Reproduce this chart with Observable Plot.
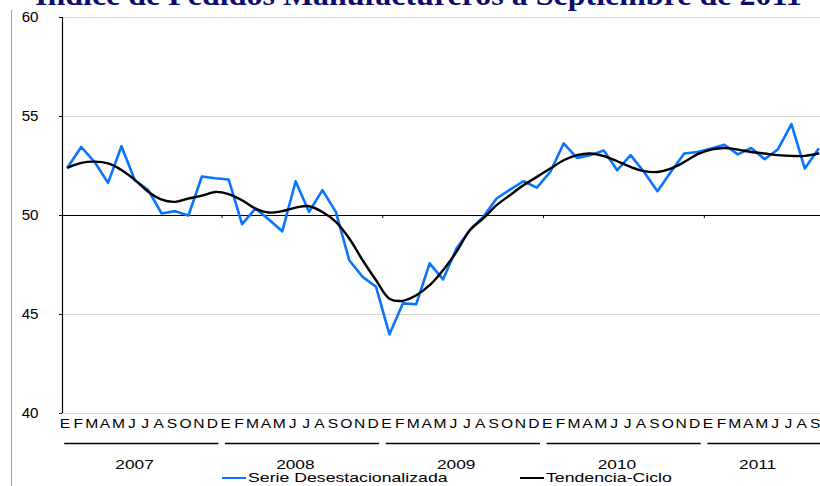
<!DOCTYPE html>
<html><head><meta charset="utf-8">
<script src="https://cdn.jsdelivr.net/npm/d3@7"></script>
<script src="https://cdn.jsdelivr.net/npm/@observablehq/plot@0.6"></script>
<style>
html,body{margin:0;padding:0;background:#fff;}
body{width:820px;height:486px;position:relative;overflow:hidden;font-family:"Liberation Sans",Arial,sans-serif;}
#title{position:absolute;left:35px;top:-21px;font:bold 30px/32px "Liberation Serif",serif;color:#0c0c6e;white-space:nowrap;transform-origin:left top;transform:scaleX(1.066);}
#border{position:absolute;left:11px;top:10px;bottom:0;border-left:1.5px solid #a0a0a0;}
#chart{position:absolute;left:0;top:0;}
.leg{position:absolute;top:470px;height:16px;line-height:16px;font-size:13.5px;white-space:nowrap;transform-origin:left center;transform:scaleX(1.31);color:#000;}
.sw{position:absolute;top:476.5px;height:2.5px;width:24px;}
</style></head>
<body>
<div id="border"></div>
<div id="chart"></div>
<div id="title">Índice de Pedidos Manufactureros a Septiembre de 2011</div>
<div id="legend"></div>
<script>
const monthLetters = ["E","F","M","A","M","J","J","A","S","O","N","D"];
const years = [2007, 2008, 2009, 2010, 2011];
const yTicks = [40, 45, 50, 55, 60];
const seriesNames = ["Serie Desestacionalizada", "Tendencia-Ciclo"];
const seriesColors = ["#0a74ff", "#000000"];

// Serie desestacionalizada, Ene 2007 - Sep 2011
const serieDesestacionalizada = [
  52.45, 53.46, 52.70, 51.65, 53.50, 51.78, 51.28, 50.10, 50.22, 50.00, 51.97, 51.88,
  51.82, 49.56, 50.35, 49.80, 49.20, 51.73, 50.18, 51.28, 50.18, 47.74, 46.90, 46.40,
  44.00, 45.56, 45.52, 47.58, 46.77, 48.33, 49.26, 49.93, 50.86, 51.31, 51.73, 51.41,
  52.20, 53.64, 52.91, 53.05, 53.28, 52.29, 53.05, 52.20, 51.23, 52.20, 53.13, 53.21,
  53.38, 53.57, 53.09, 53.41, 52.84, 53.35, 54.61, 52.37, 53.35
];
// Tendencia-Ciclo
const tendenciaCiclo = [
  52.42, 52.66, 52.72, 52.63, 52.30, 51.80, 51.20, 50.80, 50.69, 50.86, 51.00, 51.19,
  51.08, 50.77, 50.35, 50.15, 50.22, 50.40, 50.47, 50.18, 49.68, 48.84, 47.74, 46.73,
  45.80, 45.69, 45.97, 46.48, 47.24, 48.16, 49.26, 49.85, 50.52, 51.03, 51.53, 51.95,
  52.37, 52.79, 53.05, 53.13, 53.00, 52.74, 52.45, 52.24, 52.20, 52.37, 52.70, 53.10,
  53.33, 53.41, 53.33, 53.21, 53.13, 53.05, 53.01, 53.01, 53.13
];

const n = serieDesestacionalizada.length;
const rows = serieDesestacionalizada.map((v, i) => ({
  i, year: years[0] + Math.floor(i / 12), month: monthLetters[i % 12],
  serie: v, trend: tendenciaCiclo[i]
}));
const yearInfo = years.map(y => {
  const ms = rows.filter(r => r.year === y);
  return {year: y, first: ms[0].i, last: ms[ms.length - 1].i};
});
const xDomain = [-0.4, n - 1 + 0.17];

const plot = Plot.plot({
  width: 820, height: 486,
  marginLeft: 62, marginRight: 0, marginTop: 17, marginBottom: 73,
  x: {domain: xDomain, axis: null},
  y: {domain: [40, 60]},
  style: {fontFamily: '"Liberation Sans", Arial, sans-serif', color: "#000", background: "transparent", overflow: "visible"},
  marks: [
    Plot.ruleY(yTicks.filter(t => t !== 50), {stroke: "#d9d9d9", strokeWidth: 1}),
    Plot.ruleY([50], {stroke: "#000", strokeWidth: 1.2}),
    Plot.ruleX(yearInfo.slice(1), {x: d => d.first - 0.5, y1: 50, y2: 49.85, stroke: "#000", strokeWidth: 1}),
    Plot.ruleX([xDomain[0]], {y1: 40, y2: 60, stroke: "#000", strokeWidth: 1.2}),
    Plot.axisY({ticks: yTicks, tickSize: 3, tickPadding: 21, fontSize: 14, label: null, tickFormat: d => String(d)}),
    Plot.lineY(rows, {x: "i", y: "serie", stroke: seriesColors[0], strokeWidth: 2.6}),
    Plot.lineY(rows, {x: "i", y: "trend", stroke: seriesColors[1], strokeWidth: 2.4, curve: "catmull-rom"}),
    Plot.text(rows, {x: "i", text: "month", frameAnchor: "bottom", dy: 14, dx: -3, fontSize: 13}),
    Plot.link(yearInfo, {x1: d => Math.max(xDomain[0], d.first - 0.27), x2: d => d.last + 0.23, y1: 40, y2: 40, dy: 30, stroke: "#000", strokeWidth: 1.3}),
    Plot.text(yearInfo, {x: d => (d.first + d.last) / 2, text: d => String(d.year), frameAnchor: "bottom", dy: 55.5, dx: -7, fontSize: 13.5})
  ]
});
document.getElementById("chart").append(plot);

// horizontal stretch of the labels (the reference is widened)
plot.querySelectorAll("text").forEach(t => {
  const s = t.textContent.trim();
  let f = 0;
  if (monthLetters.includes(s)) f = 1.2;
  else if (/^\d{4}$/.test(s)) f = 1.28;
  else if (/^\d{2}$/.test(s)) f = 1.08;
  if (f) {
    const w = t.getComputedTextLength();
    t.setAttribute("textLength", (w * f).toFixed(2));
    t.setAttribute("lengthAdjust", "spacingAndGlyphs");
  }
});

// legend
const legendLeft = [222, 520];
const legend = document.getElementById("legend");
seriesNames.forEach((name, k) => {
  const sw = document.createElement("div");
  sw.className = "sw";
  sw.style.left = legendLeft[k] + "px";
  sw.style.background = seriesColors[k];
  legend.append(sw);
  const lab = document.createElement("div");
  lab.className = "leg";
  lab.style.left = (legendLeft[k] + 26) + "px";
  lab.textContent = name;
  legend.append(lab);
});
</script>
</body></html>
